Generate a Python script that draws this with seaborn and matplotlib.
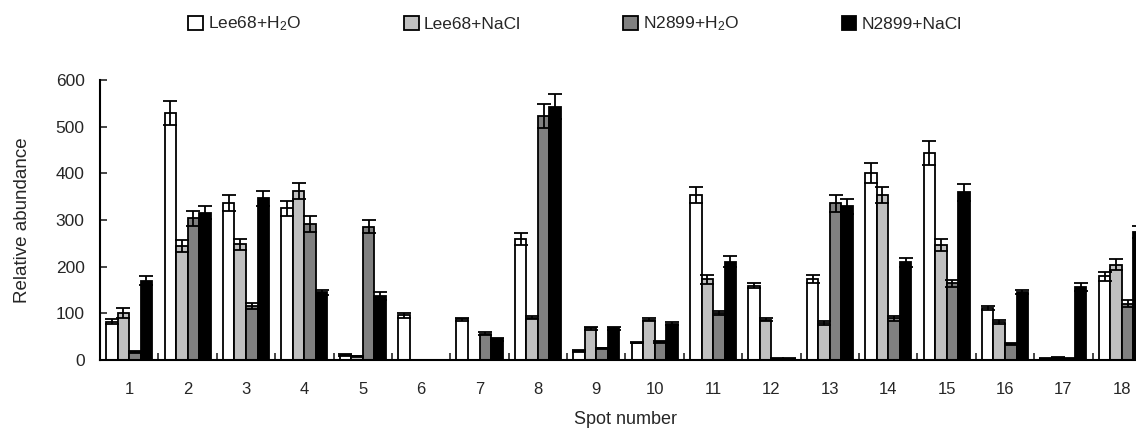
import numpy as np
import pandas as pd
import matplotlib
matplotlib.use("Agg")
import matplotlib.pyplot as plt
import seaborn as sns

spots = [str(i) for i in range(1, 19)]
conditions = ["Lee68+H$_2$O", "Lee68+NaCl", "N2899+H$_2$O", "N2899+NaCl"]

lee68_h2o = [82, 530, 337, 325, 10, 96, 87, 259, 19, 37, 354, 159, 174, 401, 444, 111, 3, 179]
lee68_nacl = [101, 245, 248, 363, 8, 1, 0, 91, 68, 86, 173, 86, 80, 354, 246, 81, 5, 204]
n2899_h2o = [17, 304, 116, 291, 286, 1, 56, 523, 25, 39, 101, 3, 336, 89, 164, 34, 3, 121]
n2899_nacl = [170, 316, 347, 145, 137, 1, 44, 543, 68, 78, 211, 3, 329, 209, 359, 146, 157, 274]

lee68_h2o_err = [5, 26, 17, 16, 2, 5, 4, 13, 2, 1, 17, 5, 8, 22, 26, 4, 1, 9]
lee68_nacl_err = [10, 13, 12, 17, 1, 0, 0, 4, 3, 3, 10, 3, 4, 17, 13, 4, 1, 12]
n2899_h2o_err = [2, 16, 7, 17, 13, 0, 3, 26, 1, 2, 4, 1, 18, 5, 8, 2, 1, 7]
n2899_nacl_err = [10, 13, 16, 5, 8, 0, 3, 27, 3, 3, 11, 1, 17, 9, 18, 4, 9, 13]

values = [lee68_h2o, lee68_nacl, n2899_h2o, n2899_nacl]
errors = [lee68_h2o_err, lee68_nacl_err, n2899_h2o_err, n2899_nacl_err]
colors = ["#FFFFFF", "#C0C0C0", "#808080", "#000000"]

df = pd.DataFrame({
    "Spot": spots * 4,
    "Condition": np.repeat(conditions, len(spots)),
    "Value": sum(values, []),
})

sns.set_style("white")
plt.rcParams["font.family"] = ["Liberation Sans", "DejaVu Sans"]
plt.rcParams["mathtext.default"] = "regular"

fig = plt.figure(figsize=(11.36, 4.34), dpi=100)
ax = fig.add_axes([100 / 1136, 74 / 434, 1051 / 1136, 280 / 434])

sns.barplot(data=df, x="Spot", y="Value", hue="Condition", order=spots,
            hue_order=conditions, palette=colors, width=0.79,
            errorbar=None, edgecolor="black", linewidth=1.3, ax=ax)

for container, err in zip(ax.containers, errors):
    xs = [p.get_x() + p.get_width() / 2 for p in container]
    ys = [p.get_height() for p in container]
    ax.errorbar(xs, ys, yerr=err, fmt="none", ecolor="black",
                elinewidth=1.3, capsize=5.2, capthick=1.3)

ax.set_xlim(-0.5, 17.5)
ax.set_ylim(0, 600)
ax.set_yticks(range(0, 601, 100))
ax.set_xticks(np.arange(-0.5, 18, 1), minor=True)
ax.tick_params(axis="x", which="major", length=0, pad=16, labelsize=12)
ax.tick_params(axis="x", which="minor", direction="in", length=5, width=1.2,
               bottom=True)
ax.tick_params(axis="y", direction="in", length=5, width=1.2, left=True,
               labelsize=12.5, pad=11)
for side in ["top", "right"]:
    ax.spines[side].set_visible(False)
for side in ["left", "bottom"]:
    ax.spines[side].set_color("black")
    ax.spines[side].set_linewidth(1.5)

ax.set_xlabel("Spot number", fontsize=13, labelpad=10)
ax.set_ylabel("Relative abundance", fontsize=13.5, labelpad=18)

handles, labels = ax.get_legend_handles_labels()
ax.legend(handles, labels, loc="center", bbox_to_anchor=(575 / 1136, 1 - 24 / 434),
          bbox_transform=fig.transFigure, ncol=4, frameon=False, fontsize=12.5,
          handlelength=0.85, handleheight=0.85, handletextpad=0.3,
          columnspacing=5.9)

fig.savefig("out.png", dpi=100)
